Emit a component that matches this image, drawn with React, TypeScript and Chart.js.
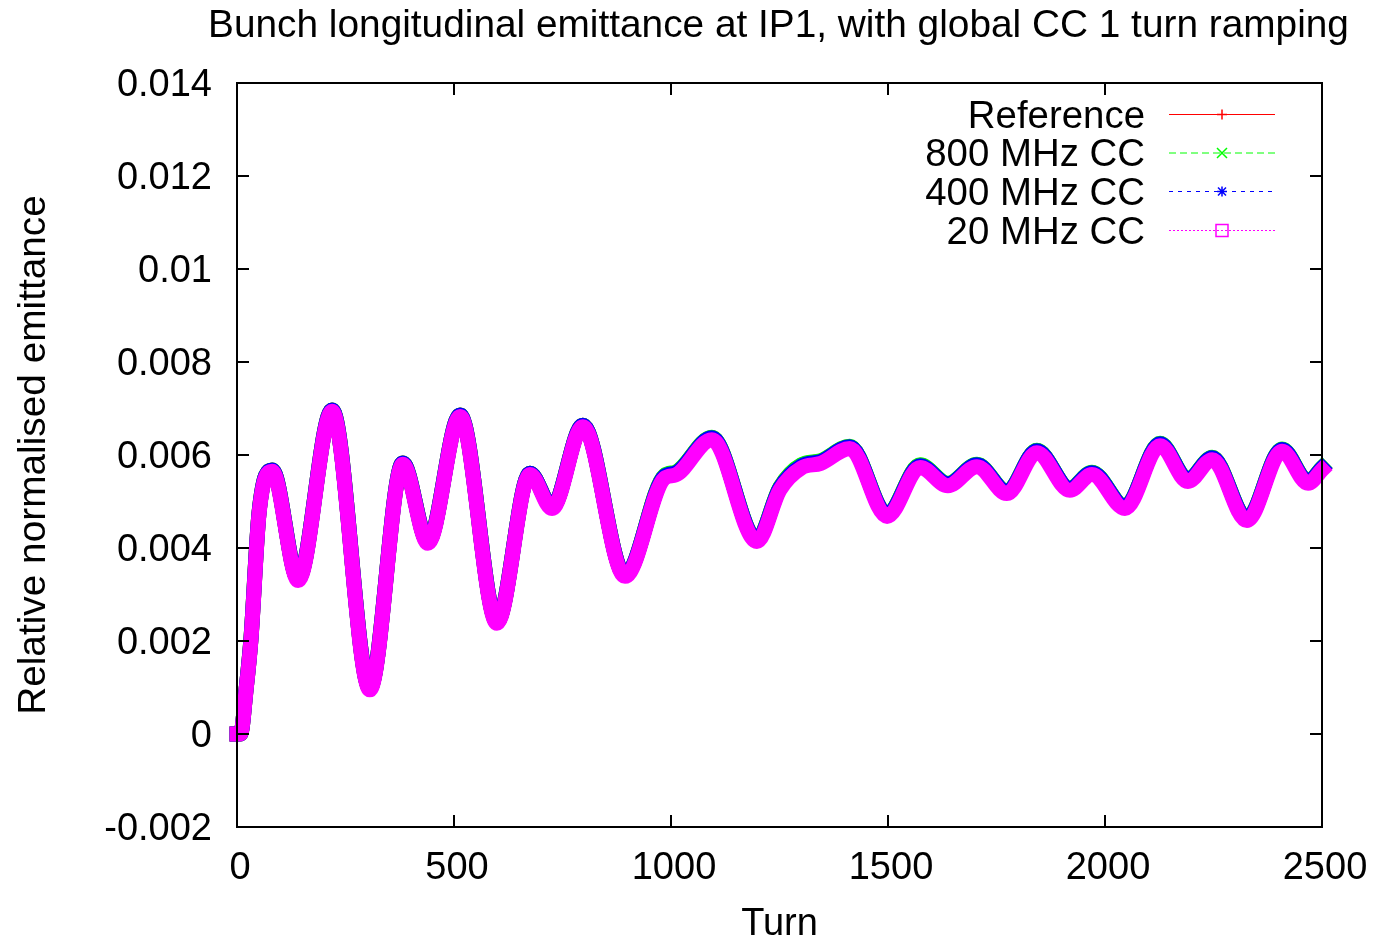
import React, { useEffect, useRef } from "react";
import { Chart, registerables } from "chart.js";

Chart.register(...registerables);

const titleText = "Bunch longitudinal emittance at IP1, with global CC 1 turn ramping";
const xAxisLabel = "Turn";
const yAxisLabel = "Relative normalised emittance";
const seriesNames = ["Reference", "800 MHz CC", "400 MHz CC", "20 MHz CC"];
const seriesColors = ["#ff0000", "#00ff00", "#0000ff", "#ff00ff"];

const xTicks = [0, 500, 1000, 1500, 2000, 2500];
const xTickLabels = ["0", "500", "1000", "1500", "2000", "2500"];
const yTicks = [-0.002, 0, 0.002, 0.004, 0.006, 0.008, 0.01, 0.012, 0.014];
const yTickLabels = ["-0.002", "0", "0.002", "0.004", "0.006", "0.008", "0.01", "0.012", "0.014"];

const turns = [0, 8, 21, 32, 51, 81, 141, 219, 306, 382, 440, 514, 599, 675, 726, 797, 894, 985, 1010, 1094, 1198, 1251, 1300, 1345, 1412, 1498, 1574, 1638, 1705, 1774, 1843, 1919, 1970, 2046, 2127, 2191, 2247, 2327, 2408, 2468, 2500];

const emitRef = [0.0, 0.0, 0.00097, 0.00203, 0.00478, 0.00568, 0.00333, 0.00697, 0.00098, 0.00583, 0.00413, 0.00686, 0.00241, 0.00561, 0.00488, 0.00664, 0.00342, 0.00555, 0.00562, 0.00637, 0.00418, 0.0053, 0.00578, 0.00587, 0.00618, 0.00472, 0.00578, 0.00538, 0.00579, 0.00521, 0.00609, 0.00528, 0.00562, 0.00489, 0.00624, 0.00547, 0.00594, 0.00463, 0.00612, 0.00543, 0.00572];
const emit800 = [0.0, 0.0, 0.00097, 0.00203, 0.00478, 0.00568, 0.00333, 0.00697, 0.00098, 0.00583, 0.00413, 0.00686, 0.00241, 0.00561, 0.00488, 0.00664, 0.00342, 0.00556, 0.00563, 0.00638, 0.00419, 0.00531, 0.00579, 0.00588, 0.00619, 0.00473, 0.00579, 0.00539, 0.0058, 0.00522, 0.0061, 0.00529, 0.00563, 0.0049, 0.00625, 0.00548, 0.00595, 0.00464, 0.00613, 0.00544, 0.00573];
const emit400 = [0.0, 0.0, 0.00097, 0.00203, 0.00478, 0.00568, 0.00333, 0.00697, 0.00098, 0.00583, 0.00413, 0.00686, 0.00241, 0.00561, 0.00488, 0.00664, 0.00342, 0.00554, 0.00561, 0.00637, 0.00418, 0.00529, 0.00576, 0.00586, 0.00618, 0.00472, 0.00577, 0.00538, 0.00579, 0.00521, 0.00609, 0.00528, 0.00562, 0.00489, 0.00624, 0.00547, 0.00594, 0.00463, 0.00612, 0.00543, 0.00572];
const emit20 = [0.0, 0.0, 0.00095, 0.002, 0.00475, 0.00565, 0.0033, 0.00694, 0.00095, 0.0058, 0.0041, 0.00683, 0.00238, 0.00558, 0.00485, 0.00661, 0.00339, 0.0055, 0.00557, 0.00633, 0.00414, 0.00525, 0.00572, 0.00582, 0.00614, 0.00468, 0.00573, 0.00534, 0.00575, 0.00517, 0.00605, 0.00524, 0.00558, 0.00485, 0.0062, 0.00543, 0.0059, 0.00459, 0.00608, 0.00539, 0.00568];

const FAMILY = '"Liberation Sans", Arial, Helvetica, sans-serif';
const FONT = "38px " + FAMILY;
const BIG_FONT = "38.8px " + FAMILY;

const decorPlugin = {
  id: "gnuplotDecor",
  afterDraw(chart: any) {
    const { ctx, chartArea: a, scales } = chart;
    const x = scales.x;
    const y = scales.y;
    ctx.save();
    // frame
    ctx.strokeStyle = "#000";
    ctx.lineWidth = 2;
    ctx.strokeRect(a.left, a.top, a.right - a.left, a.bottom - a.top);
    // inward ticks on all sides
    ctx.beginPath();
    yTicks.forEach((v) => {
      const py = Math.round(y.getPixelForValue(v));
      ctx.moveTo(a.left, py);
      ctx.lineTo(a.left + 12, py);
      ctx.moveTo(a.right, py);
      ctx.lineTo(a.right - 12, py);
    });
    xTicks.forEach((v) => {
      const px = Math.round(x.getPixelForValue(v));
      ctx.moveTo(px, a.bottom);
      ctx.lineTo(px, a.bottom - 12);
      ctx.moveTo(px, a.top);
      ctx.lineTo(px, a.top + 12);
    });
    ctx.stroke();

    ctx.fillStyle = "#000";
    ctx.font = FONT;
    // y tick labels
    ctx.textAlign = "right";
    ctx.textBaseline = "alphabetic";
    yTicks.forEach((v, i) => {
      const py = y.getPixelForValue(v);
      ctx.fillText(yTickLabels[i], a.left - 25, py + 12.5);
    });
    // x tick labels
    ctx.textAlign = "center";
    xTicks.forEach((v, i) => {
      const px = x.getPixelForValue(v);
      ctx.fillText(xTickLabels[i], px + 3, a.bottom + 52);
    });
    const cx = (a.left + a.right) / 2;
    // x label
    ctx.fillText(xAxisLabel, cx, 935);
    // title
    ctx.font = BIG_FONT;
    ctx.fillText(titleText, cx - 1, 37);
    // y label
    ctx.save();
    ctx.translate(45, 455);
    ctx.rotate(-Math.PI / 2);
    ctx.fillText(yAxisLabel, 0, 0);
    ctx.restore();

    // legend
    ctx.font = "38.4px " + FAMILY;
    const rowY = [114.5, 153, 191.5, 230.5];
    const x0 = 1169;
    const x1 = 1275;
    const mx = 1222;
    const dashes = [[], [7, 4], [4, 5], [2, 2]];
    seriesNames.forEach((name, i) => {
      const ry = rowY[i];
      ctx.fillStyle = "#000";
      ctx.textAlign = "right";
      ctx.fillText(name, 1145, ry + 13);
      ctx.strokeStyle = seriesColors[i];
      ctx.lineWidth = 1;
      ctx.setLineDash(dashes[i]);
      ctx.beginPath();
      ctx.moveTo(x0, ry);
      ctx.lineTo(x1, ry);
      ctx.stroke();
      ctx.setLineDash([]);
      ctx.lineWidth = 1.5;
      ctx.beginPath();
      if (i === 0) {
        ctx.moveTo(mx - 5, ry);
        ctx.lineTo(mx + 5, ry);
        ctx.moveTo(mx, ry - 5);
        ctx.lineTo(mx, ry + 5);
      } else if (i === 1) {
        ctx.moveTo(mx - 5, ry - 5);
        ctx.lineTo(mx + 5, ry + 5);
        ctx.moveTo(mx - 5, ry + 5);
        ctx.lineTo(mx + 5, ry - 5);
      } else if (i === 2) {
        ctx.moveTo(mx - 5, ry);
        ctx.lineTo(mx + 5, ry);
        ctx.moveTo(mx, ry - 5);
        ctx.lineTo(mx, ry + 5);
        ctx.moveTo(mx - 4, ry - 4);
        ctx.lineTo(mx + 4, ry + 4);
        ctx.moveTo(mx - 4, ry + 4);
        ctx.lineTo(mx + 4, ry - 4);
      } else {
        ctx.rect(mx - 6, ry - 6, 12, 12);
      }
      ctx.stroke();
    });
    ctx.restore();
  },
};

export default function App() {
  const canvasRef = useRef<HTMLCanvasElement | null>(null);

  useEffect(() => {
    const canvas = canvasRef.current;
    if (!canvas) return;
    const series = [emitRef, emit800, emit400, emit20];
    const datasets = series.map((vals, i) => ({
      label: seriesNames[i],
      data: turns.map((t, k) => ({ x: t, y: vals[k] })),
      borderColor: seriesColors[i],
      backgroundColor: seriesColors[i],
      borderWidth: 15,
      borderJoinStyle: "round" as const,
      borderCapStyle: "square" as const,
      pointRadius: 0,
      fill: false,
      cubicInterpolationMode: "monotone" as const,
      clip: false as any,
      order: 4 - i,
    }));
    const chart = new Chart(canvas, {
      type: "line",
      data: { datasets },
      options: {
        animation: false,
        responsive: false,
        maintainAspectRatio: false,
        layout: { padding: { left: 237, right: 53, top: 83, bottom: 114 } },
        plugins: {
          legend: { display: false },
          tooltip: { enabled: false },
          title: { display: false },
        },
        scales: {
          x: { type: "linear", min: 0, max: 2500, display: false },
          y: { type: "linear", min: -0.002, max: 0.014, display: false },
        },
      },
      plugins: [decorPlugin],
    });
    return () => chart.destroy();
  }, []);

  return (
    <div style={{ position: "absolute", left: 0, top: 0, width: 1375, height: 941, background: "#fff" }}>
      <canvas ref={canvasRef} width={1375} height={941} style={{ width: 1375, height: 941, display: "block" }} />
    </div>
  );
}
